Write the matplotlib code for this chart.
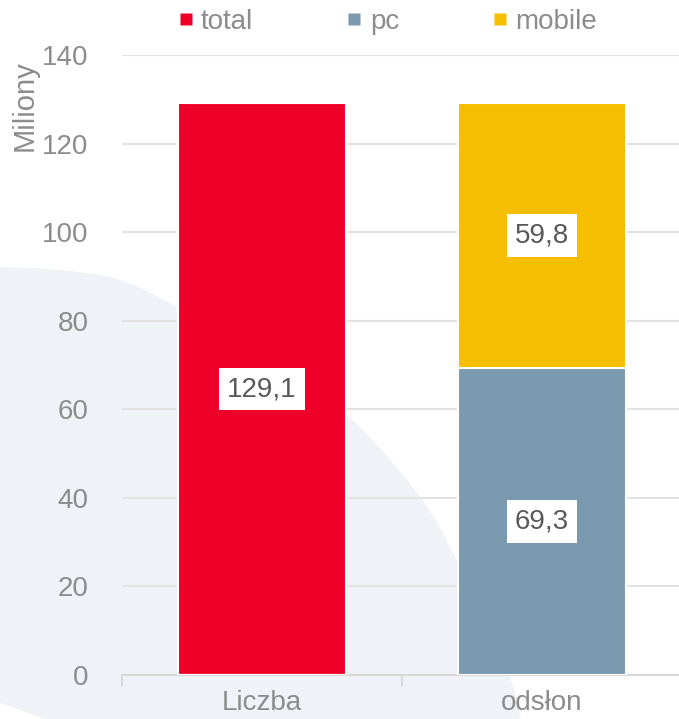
import numpy as np
import matplotlib
matplotlib.use('Agg')
import matplotlib.pyplot as plt
from matplotlib.patches import Polygon
from matplotlib.lines import Line2D

plt.rcParams['font.family'] = ['Liberation Sans', 'DejaVu Sans']

categories = ['Liczba', 'odsłon']
total = [129.1, 0]
pc = [0, 69.3]
mobile = [0, 59.8]
series_names = ['total', 'pc', 'mobile']
colors = ['#EE0028', '#7B9AAF', '#F5BE00']
yticks = [0, 20, 40, 60, 80, 100, 120, 140]

W, H = 679, 719
fig = plt.figure(figsize=(W / 100, H / 100), dpi=100)


def smooth(pts, n=20):
    # catmull-rom through the traced outline points
    p = np.array(pts, dtype=float)
    p = np.vstack([p[0], p, p[-1]])
    out = []
    for i in range(1, len(p) - 2):
        p0, p1, p2, p3 = p[i - 1], p[i], p[i + 1], p[i + 2]
        for t in np.linspace(0, 1, n, endpoint=False):
            out.append(0.5 * ((2 * p1) + (-p0 + p2) * t
                              + (2 * p0 - 5 * p1 + 4 * p2 - p3) * t ** 2
                              + (-p0 + 3 * p1 - 3 * p2 + p3) * t ** 3))
    out.append(p[-2])
    return np.array(out)


# light background blob behind the plot (decoration)
upper = smooth([(-20, 266), (0, 267), (60, 270), (120, 280), (175, 306), (260, 352),
                (350, 418), (420, 497), (453, 553), (485, 615), (510, 677), (522, 725)])
lower = smooth([(60, 730), (43, 719), (20, 710), (0, 703), (-20, 698)])
outline = np.vstack([upper, [[525, 735], [60, 735]], lower])
outline = np.column_stack([outline[:, 0] / W, 1 - outline[:, 1] / H])
fig.patches.append(Polygon(outline, closed=True, transform=fig.transFigure,
                           facecolor='#EFF2F6', edgecolor='none', zorder=0))

ax = fig.add_axes([122 / W, 1 - 675 / H, 560 / W, 620 / H])
ax.set_zorder(2)
ax.patch.set_alpha(0)

x = np.arange(len(categories))
bw = 0.6
ax.bar(x, total, bw, color=colors[0], edgecolor='white', linewidth=1.5, zorder=3)
ax.bar(x, pc, bw, color=colors[1], edgecolor='white', linewidth=1.5, zorder=3)
ax.bar(x, mobile, bw, bottom=pc, color=colors[2], edgecolor='white', linewidth=1.5, zorder=3)


def label(xx, yy, v):
    ax.text(xx, yy, f'{v:.1f}'.replace('.', ','), ha='center', va='center',
            fontsize=20, color='#595959', zorder=5,
            bbox=dict(boxstyle='square,pad=0.3', facecolor='white', edgecolor='none'))


label(x[0], total[0] / 2, total[0])
label(x[1], pc[1] / 2, pc[1])
label(x[1], pc[1] + mobile[1] / 2, mobile[1])

ax.set_xlim(-0.5, 1.5)
ax.set_ylim(0, 140)
ax.set_yticks(yticks)
ax.yaxis.grid(True, color='#E2E2E2', linewidth=1.5, zorder=1)
ax.set_axisbelow(True)
for s in ['top', 'right', 'left']:
    ax.spines[s].set_visible(False)
ax.spines['bottom'].set_color('#D9D9D9')
ax.spines['bottom'].set_linewidth(1.5)

ax.set_xticks(x)
ax.set_xticklabels(categories)
ax.set_xticks([-0.5, 0.5, 1.5], minor=True)
ax.tick_params(axis='x', which='major', length=0, pad=11, labelsize=20, labelcolor='#8C8C8C')
ax.tick_params(axis='x', which='minor', length=8, width=1.5, color='#D9D9D9')
ax.tick_params(axis='y', length=0, pad=24, labelsize=20, labelcolor='#8C8C8C')

fig.text(25 / W, 1 - 106 / H, 'Miliony', rotation=90, ha='center', va='center',
         fontsize=21, color='#8C8C8C')

handles = [Line2D([], [], linestyle='none', marker='s', markersize=8,
                  markerfacecolor=c, markeredgecolor='none') for c in colors]
fig.legend(handles, series_names, loc='center', bbox_to_anchor=(388 / W, 1 - 22 / H),
           ncol=3, frameon=False, fontsize=20, labelcolor='#8C8C8C',
           handlelength=0.5, handletextpad=0.3, columnspacing=3.4)

fig.savefig('out.png', dpi=100)
